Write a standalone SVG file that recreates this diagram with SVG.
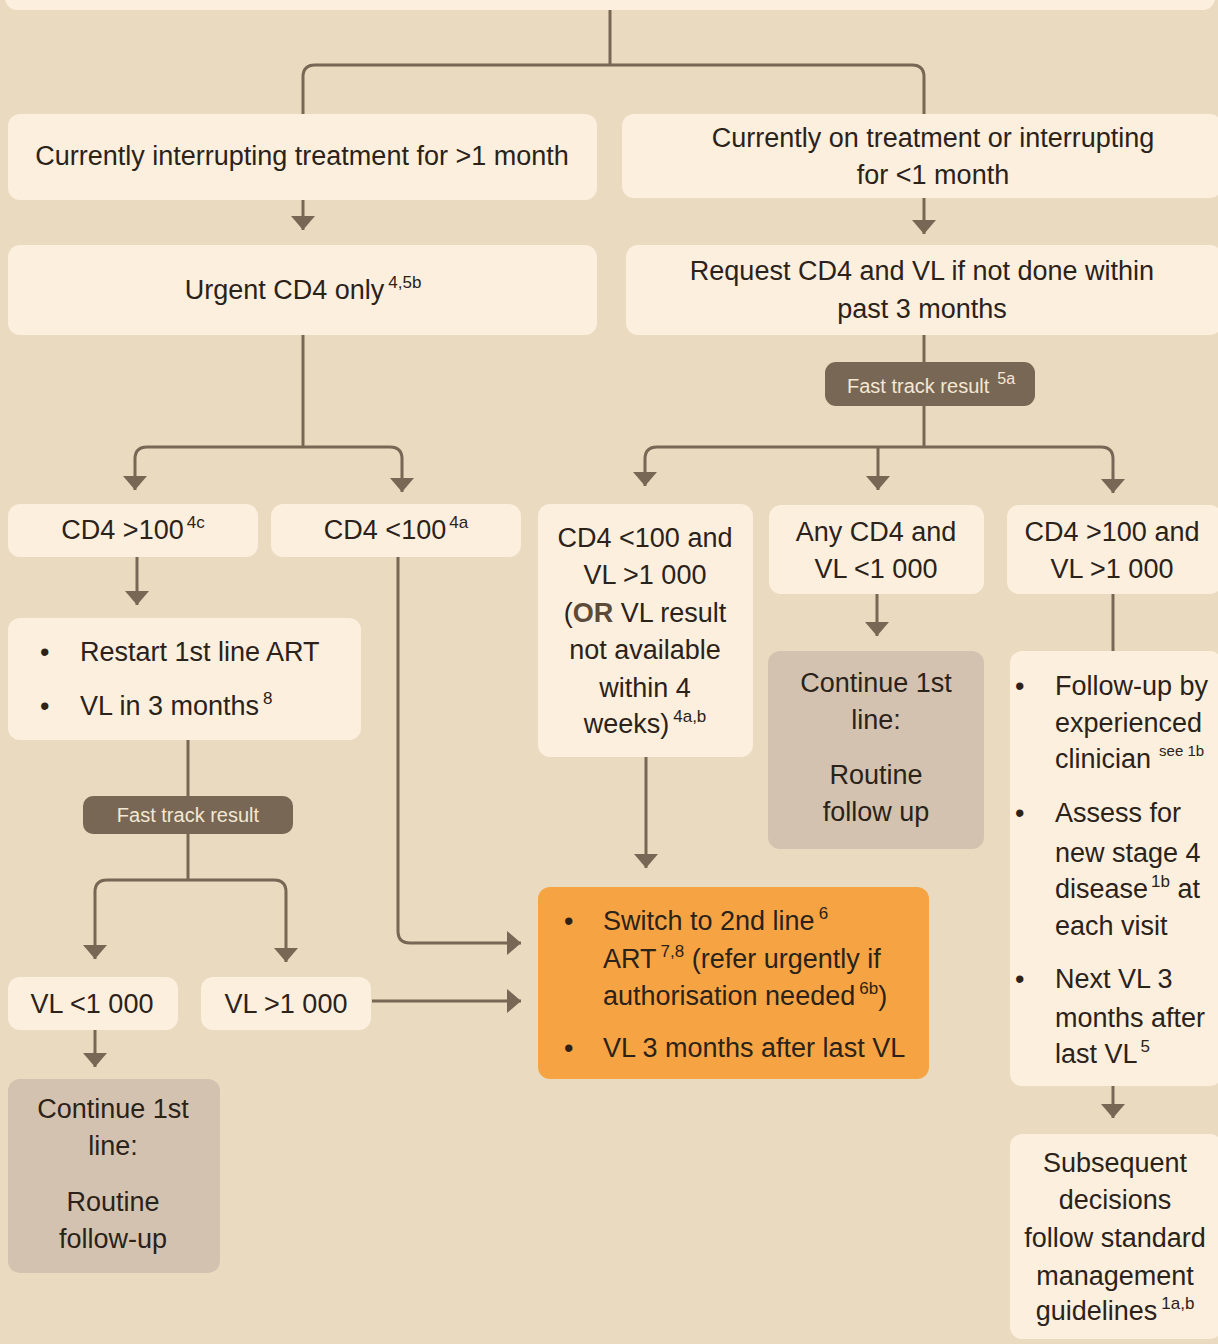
<svg xmlns="http://www.w3.org/2000/svg" width="1218" height="1344" viewBox="0 0 1218 1344">
<defs>
<style>
.bg{fill:#E9DAC0}
.box{fill:#FCEFDE}
.grey{fill:#D4C2B0}
.orange{fill:#F6A443}
.pill{fill:#786754}
.t{font-family:"Liberation Sans",Arial,sans-serif;font-size:27px;fill:#2B2219}
.c{text-anchor:middle}
.sup{font-size:17px}
.sm{font-size:15px}
.pt{font-family:"Liberation Sans",Arial,sans-serif;font-size:20px;fill:#F4E7D3}
.or{font-weight:bold;fill:#5C4B3A}
.ln{fill:none;stroke:#786754;stroke-width:3}
</style>
<marker id="ah" viewBox="0 0 14 24" refX="14" refY="12" markerWidth="14" markerHeight="24" markerUnits="userSpaceOnUse" orient="auto">
<path d="M0,0 L14,12 L0,24 z" fill="#786754"/>
</marker>
</defs>
<rect class="bg" x="0" y="0" width="1218" height="1344"/>

<g id="connectors">
<path class="ln" d="M610,10 V65"/>
<path class="ln" d="M303,114 V77 Q303,65 315,65 H912 Q924,65 924,77 V114"/>
<path class="ln" d="M303,200 V230" marker-end="url(#ah)"/>
<path class="ln" d="M924,198 V234" marker-end="url(#ah)"/>
<path class="ln" d="M303,335 V447"/>
<path class="ln" d="M303,447 H147 Q135,447 135,459 V490" marker-end="url(#ah)"/>
<path class="ln" d="M303,447 H390 Q402,447 402,459 V492" marker-end="url(#ah)"/>
<path class="ln" d="M924,335 V362"/>
<path class="ln" d="M924,406 V447"/>
<path class="ln" d="M924,447 H657 Q645,447 645,459 V486" marker-end="url(#ah)"/>
<path class="ln" d="M878,447 V490" marker-end="url(#ah)"/>
<path class="ln" d="M924,447 H1101 Q1113,447 1113,459 V493" marker-end="url(#ah)"/>
<path class="ln" d="M137,557 V605" marker-end="url(#ah)"/>
<path class="ln" d="M398,557 V931 Q398,943 410,943 H521" marker-end="url(#ah)"/>
<path class="ln" d="M188,740 V796"/>
<path class="ln" d="M188,834 V880"/>
<path class="ln" d="M188,880 H107 Q95,880 95,892 V959" marker-end="url(#ah)"/>
<path class="ln" d="M188,880 H274 Q286,880 286,892 V962" marker-end="url(#ah)"/>
<path class="ln" d="M372,1001 H521" marker-end="url(#ah)"/>
<path class="ln" d="M95,1030 V1067" marker-end="url(#ah)"/>
<path class="ln" d="M646,757 V868" marker-end="url(#ah)"/>
<path class="ln" d="M877,594 V636" marker-end="url(#ah)"/>
<path class="ln" d="M1113,594 V651"/>
<path class="ln" d="M1113,1086 V1118" marker-end="url(#ah)"/>
</g>

<g id="top">
<rect class="box" x="5" y="-20" width="1210" height="30" rx="12"/>
</g>

<g id="interrupting">
<rect class="box" x="8" y="114" width="589" height="86" rx="12"/>
<text class="t c" x="302" y="165">Currently interrupting treatment for &gt;1 month</text>
</g>

<g id="ontreatment">
<rect class="box" x="622" y="114" width="600" height="84" rx="12"/>
<text class="t c" x="933" y="147">Currently on treatment or interrupting</text>
<text class="t c" x="933" y="184">for &lt;1 month</text>
</g>

<g id="urgentcd4">
<rect class="box" x="8" y="245" width="589" height="90" rx="12"/>
<text class="t c" x="303" y="299">Urgent CD4 only<tspan class="sup" dx="4" dy="-11">4,5b</tspan></text>
</g>

<g id="request">
<rect class="box" x="626" y="245" width="596" height="90" rx="12"/>
<text class="t c" x="922" y="280">Request CD4 and VL if not done within</text>
<text class="t c" x="922" y="318">past 3 months</text>
</g>

<g id="fasttrack1">
<rect class="pill" x="825" y="362" width="210" height="44" rx="11"/>
<text class="pt" x="847" y="393">Fast track result<tspan class="sup" dx="8" dy="-9" style="font-size:16px">5a</tspan></text>
</g>

<g id="cd4gt100">
<rect class="box" x="8" y="504" width="250" height="53" rx="12"/>
<text class="t c" x="133" y="539">CD4 &gt;100<tspan class="sup" dx="3" dy="-11">4c</tspan></text>
</g>

<g id="cd4lt100">
<rect class="box" x="271" y="504" width="250" height="53" rx="12"/>
<text class="t c" x="396" y="539">CD4 &lt;100<tspan class="sup" dx="3" dy="-11">4a</tspan></text>
</g>

<g id="cd4lt100vl">
<rect class="box" x="538" y="504" width="215" height="253" rx="12"/>
<text class="t c" x="645" y="547">CD4 &lt;100 and</text>
<text class="t c" x="645" y="584">VL &gt;1 000</text>
<text class="t c" x="645" y="622">(<tspan class="or">OR</tspan> VL result</text>
<text class="t c" x="645" y="659">not available</text>
<text class="t c" x="645" y="697">within 4</text>
<text class="t c" x="645" y="733">weeks)<tspan class="sup" dx="4" dy="-11">4a,b</tspan></text>
</g>

<g id="anycd4">
<rect class="box" x="769" y="505" width="215" height="89" rx="12"/>
<text class="t c" x="876" y="541">Any CD4 and</text>
<text class="t c" x="876" y="578">VL &lt;1 000</text>
</g>

<g id="cd4gt100vl">
<rect class="box" x="1007" y="505" width="215" height="89" rx="12"/>
<text class="t c" x="1112" y="541">CD4 &gt;100 and</text>
<text class="t c" x="1112" y="578">VL &gt;1 000</text>
</g>

<g id="restart">
<rect class="box" x="8" y="618" width="353" height="122" rx="12"/>
<text class="t" x="40" y="661">•</text>
<text class="t" x="80" y="661">Restart 1st line ART</text>
<text class="t" x="40" y="715">•</text>
<text class="t" x="80" y="715">VL in 3 months<tspan class="sup" dx="4" dy="-11">8</tspan></text>
</g>

<g id="continue1">
<rect class="grey" x="768" y="651" width="216" height="198" rx="12"/>
<text class="t c" x="876" y="692">Continue 1st</text>
<text class="t c" x="876" y="729">line:</text>
<text class="t c" x="876" y="784">Routine</text>
<text class="t c" x="876" y="821">follow up</text>
</g>

<g id="followup">
<rect class="box" x="1010" y="651" width="212" height="435" rx="12"/>
<text class="t" x="1015" y="695">•</text>
<text class="t" x="1055" y="695">Follow-up by</text>
<text class="t" x="1055" y="732">experienced</text>
<text class="t" x="1055" y="768">clinician<tspan class="sm" dx="8" dy="-12">see 1b</tspan></text>
<text class="t" x="1015" y="822">•</text>
<text class="t" x="1055" y="822">Assess for</text>
<text class="t" x="1055" y="862">new stage 4</text>
<text class="t" x="1055" y="898">disease<tspan class="sup" dx="3" dy="-11">1b</tspan><tspan dy="11"> at</tspan></text>
<text class="t" x="1055" y="935">each visit</text>
<text class="t" x="1015" y="988">•</text>
<text class="t" x="1055" y="988">Next VL 3</text>
<text class="t" x="1055" y="1027">months after</text>
<text class="t" x="1055" y="1063">last VL<tspan class="sup" dx="3" dy="-11">5</tspan></text>
</g>

<g id="fasttrack2">
<rect class="pill" x="83" y="796" width="210" height="38" rx="10"/>
<text class="pt c" x="188" y="822">Fast track result</text>
</g>

<g id="switch">
<rect class="orange" x="538" y="887" width="391" height="192" rx="12"/>
<text class="t" x="564" y="930">•</text>
<text class="t" x="603" y="930">Switch to 2nd line<tspan class="sup" dx="4" dy="-11">6</tspan></text>
<text class="t" x="603" y="968">ART<tspan class="sup" dx="4" dy="-11">7,8</tspan><tspan dy="11"> (refer urgently if</tspan></text>
<text class="t" x="603" y="1005">authorisation needed<tspan class="sup" dx="4" dy="-11">6b</tspan><tspan dy="11">)</tspan></text>
<text class="t" x="564" y="1057">•</text>
<text class="t" x="603" y="1057">VL 3 months after last VL</text>
</g>

<g id="vllt1000">
<rect class="box" x="8" y="977" width="170" height="53" rx="12"/>
<text class="t c" x="92" y="1013">VL &lt;1 000</text>
</g>

<g id="vlgt1000">
<rect class="box" x="201" y="977" width="170" height="53" rx="12"/>
<text class="t c" x="286" y="1013">VL &gt;1 000</text>
</g>

<g id="continue2">
<rect class="grey" x="8" y="1079" width="212" height="194" rx="12"/>
<text class="t c" x="113" y="1118">Continue 1st</text>
<text class="t c" x="113" y="1155">line:</text>
<text class="t c" x="113" y="1211">Routine</text>
<text class="t c" x="113" y="1248">follow-up</text>
</g>

<g id="subsequent">
<rect class="box" x="1010" y="1134" width="212" height="205" rx="12"/>
<text class="t c" x="1115" y="1172">Subsequent</text>
<text class="t c" x="1115" y="1209">decisions</text>
<text class="t c" x="1115" y="1247">follow standard</text>
<text class="t c" x="1115" y="1285">management</text>
<text class="t c" x="1115" y="1320">guidelines<tspan class="sup" dx="4" dy="-11">1a,b</tspan></text>
</g>
</svg>
